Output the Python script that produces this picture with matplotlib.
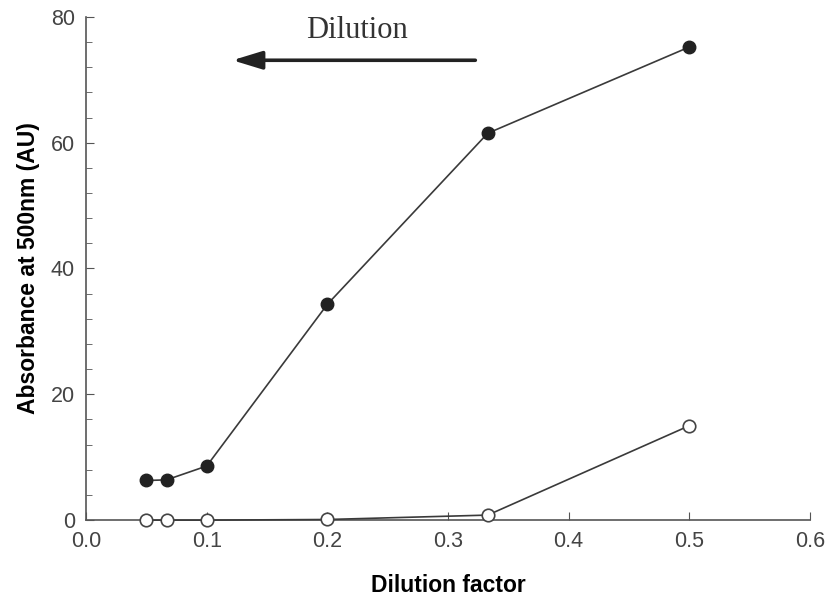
import matplotlib.pyplot as plt
from matplotlib.ticker import MultipleLocator

# dilution factors and absorbance readings
dilution = [0.05, 0.0667, 0.1, 0.2, 0.333, 0.5]
abs_filled = [6.3, 6.4, 8.6, 34.3, 61.5, 75.2]
abs_open = [0.0, 0.0, 0.0, 0.1, 0.8, 15.0]

plt.rcParams['font.family'] = ['Liberation Sans', 'DejaVu Sans']

fig = plt.figure(figsize=(8.28, 6.02), dpi=100)
ax = fig.add_axes([0.104, 0.136, 0.874, 0.836])

line_col = '#3a3a3a'
ax.plot(dilution, abs_filled, '-o', color=line_col, lw=1.2,
        markersize=9, markerfacecolor='#222222', markeredgecolor='#222222', zorder=3)
ax.plot(dilution, abs_open, '-o', color=line_col, lw=1.2,
        markersize=9, markerfacecolor='white', markeredgecolor='#444444',
        markeredgewidth=1.2, zorder=3, clip_on=False)

ax.set_xlim(0, 0.6)
ax.set_ylim(0, 80)
ax.xaxis.set_major_locator(MultipleLocator(0.1))
ax.yaxis.set_major_locator(MultipleLocator(20))
ax.yaxis.set_minor_locator(MultipleLocator(4))
ax.xaxis.set_major_formatter(plt.FuncFormatter(lambda v, p: '%.1f' % v))

for side in ['top', 'right']:
    ax.spines[side].set_visible(False)
for side in ['left', 'bottom']:
    ax.spines[side].set_color('#555555')
    ax.spines[side].set_linewidth(1.2)

ax.tick_params(axis='both', which='major', direction='in', length=6,
               color='#555555', labelsize=15.5, labelcolor='#444444', pad=8)
ax.tick_params(axis='y', which='minor', direction='in', length=4, color='#555555')

ax.set_xlabel('Dilution factor', fontsize=16.5, fontweight='bold', labelpad=16)
ax.set_ylabel('Absorbance at 500nm (AU)', fontsize=16.5, fontweight='bold', labelpad=8)

# direction of dilution
ax.annotate('', xy=(0.119, 73.1), xytext=(0.325, 73.1),
            arrowprops=dict(arrowstyle='-|>,head_length=1.8,head_width=0.55',
                            color='#222222', lw=2.6))
ax.text(0.2245, 77.8, 'Dilution', fontsize=22, family='Liberation Serif',
        ha='center', va='center', color='#333333')

fig.savefig('out.png', dpi=100)
